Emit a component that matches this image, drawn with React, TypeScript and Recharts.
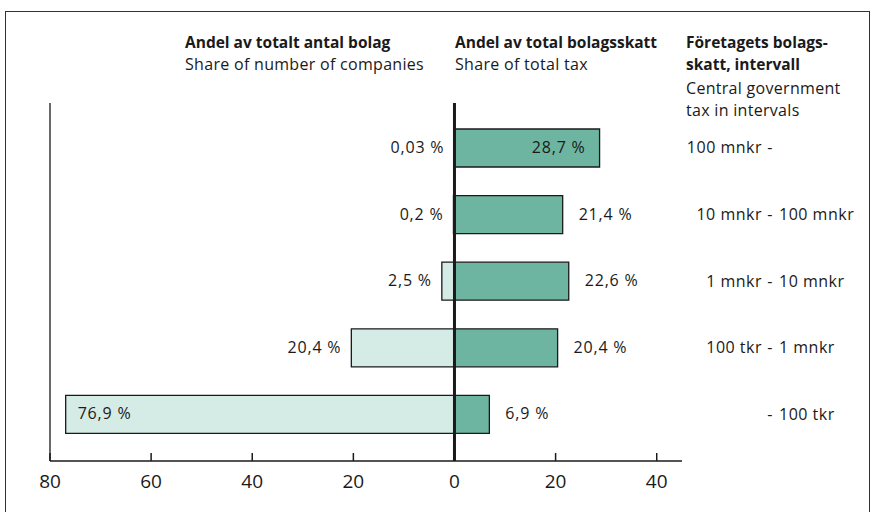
import { BarChart, Bar, XAxis, YAxis, ReferenceLine, LabelList } from 'recharts';

// tax intervals, top to bottom
const bands = ['100 mnkr -', '10 mnkr - 100 mnkr', '1 mnkr - 10 mnkr', '100 tkr - 1 mnkr', '- 100 tkr'];
const bandFrom = ['100 mnkr', '10 mnkr', '1 mnkr', '100 tkr', ''];
const bandTo = ['', '100 mnkr', '10 mnkr', '1 mnkr', '100 tkr'];

// percent shares
const shareCompanies = [0.03, 0.2, 2.5, 20.4, 76.9];
const shareTax = [28.7, 21.4, 22.6, 20.4, 6.9];

const xTicks = [-80, -60, -40, -20, 0, 20, 40];

const data = bands.map((band, i) => ({
  band,
  companiesNeg: -shareCompanies[i],
  companies: shareCompanies[i],
  tax: shareTax[i],
}));

const FONT = '"Open Sans", "Noto Sans", sans-serif';
const INK = '#1a1a1a';

function fmtPct(v: number): string {
  return `${String(v).replace('.', ',')} %`;
}

function XTick(props: any) {
  const { x, y, payload } = props;
  return (
    <g>
      <line x1={x} x2={x} y1={y - 8} y2={y} stroke={INK} strokeWidth={1.5} />
      <text x={x} y={y + 27} textAnchor="middle" fontSize={19} fill={INK} fontFamily={FONT}>
        {Math.abs(payload.value)}
      </text>
    </g>
  );
}

function BandTick(props: any) {
  const { x, y, payload } = props;
  const i = payload.index;
  const hx = x + 88;
  return (
    <g fontFamily={FONT} fontSize={16} fill={INK} letterSpacing={0.5}>
      <text x={hx - 8} y={y} dy={5} textAnchor="end">{bandFrom[i]}</text>
      <text x={hx} y={y} dy={5} textAnchor="middle">-</text>
      <text x={hx + 9} y={y} dy={5} textAnchor="start">{bandTo[i]}</text>
    </g>
  );
}

function companyLabel(props: any) {
  const { x, y, width, height, value } = props;
  const left = Math.min(x, x + width);
  const inside = value > 50;
  return (
    <text
      x={inside ? left + 12 : left - 10}
      y={y + height / 2}
      dy={5}
      textAnchor={inside ? 'start' : 'end'}
      fontSize={16}
      letterSpacing={0.8}
      fill={INK}
      fontFamily={FONT}
    >
      {fmtPct(value)}
    </text>
  );
}

function taxLabel(props: any) {
  const { x, y, width, height, value } = props;
  const right = Math.max(x, x + width);
  const inside = value > 25;
  return (
    <text
      x={inside ? right - 14 : right + 16}
      y={y + height / 2}
      dy={5}
      textAnchor={inside ? 'end' : 'start'}
      fontSize={16}
      letterSpacing={0.8}
      fill={INK}
      fontFamily={FONT}
    >
      {fmtPct(value)}
    </text>
  );
}

const head = { position: 'absolute' as const, fontFamily: FONT, fontSize: 16, color: INK, lineHeight: '22px', whiteSpace: 'nowrap' as const };
const bold = { fontWeight: 700, fontSize: 15.5 };

export default function App() {
  return (
    <div style={{ position: 'absolute', left: 0, top: 0, width: 875, height: 512, overflow: 'hidden', background: '#fff' }}>
      <div style={{ position: 'absolute', left: 5, top: 11, width: 865, height: 520, border: '1.5px solid #333', boxSizing: 'border-box' }} />

      <div style={{ ...head, left: 185, top: 31 }}>
        <div style={bold}>Andel av totalt antal bolag</div>
        <div style={{ letterSpacing: 0.3 }}>Share of number of companies</div>
      </div>
      <div style={{ ...head, left: 455, top: 31 }}>
        <div style={bold}>Andel av total bolagsskatt</div>
        <div style={{ letterSpacing: 0.3 }}>Share of total tax</div>
      </div>
      <div style={{ ...head, left: 686, top: 31 }}>
        <div style={bold}>Företagets bolags-</div>
        <div style={bold}>skatt, intervall</div>
        <div style={{ marginTop: 2, letterSpacing: 0.3 }}>Central government</div>
        <div style={{ letterSpacing: 0.3 }}>tax in intervals</div>
      </div>

      <div style={{ position: 'absolute', left: 0, top: 0 }}>
        <BarChart
          width={875}
          height={512}
          data={data}
          layout="vertical"
          stackOffset="sign"
          barSize={38}
          margin={{ top: 103, right: 0, left: 50, bottom: 11 }}
        >
          <XAxis
            type="number"
            domain={[-80, 45]}
            ticks={xTicks}
            interval={0}
            allowDataOverflow
            height={40}
            axisLine={{ stroke: INK, strokeWidth: 1.5 }}
            tickLine={false}
            tickSize={0}
            tickMargin={0}
            tick={<XTick />}
          />
          <YAxis
            type="category"
            dataKey="band"
            orientation="right"
            width={193}
            interval={0}
            axisLine={false}
            tickLine={false}
            tickSize={0}
            tickMargin={0}
            padding={{ top: 12, bottom: 13 }}
            tick={<BandTick />}
          />
          <Bar dataKey="companiesNeg" stackId="s" fill="#d5ebe5" stroke={INK} strokeWidth={1.3} isAnimationActive={false}>
            <LabelList dataKey="companies" content={companyLabel} />
          </Bar>
          <Bar dataKey="tax" stackId="s" fill="#6db5a0" stroke={INK} strokeWidth={1.3} isAnimationActive={false}>
            <LabelList dataKey="tax" content={taxLabel} />
          </Bar>
          <ReferenceLine x={-80} stroke={INK} strokeWidth={1.3} />
          <ReferenceLine x={0} stroke={INK} strokeWidth={3} />
        </BarChart>
      </div>
    </div>
  );
}
